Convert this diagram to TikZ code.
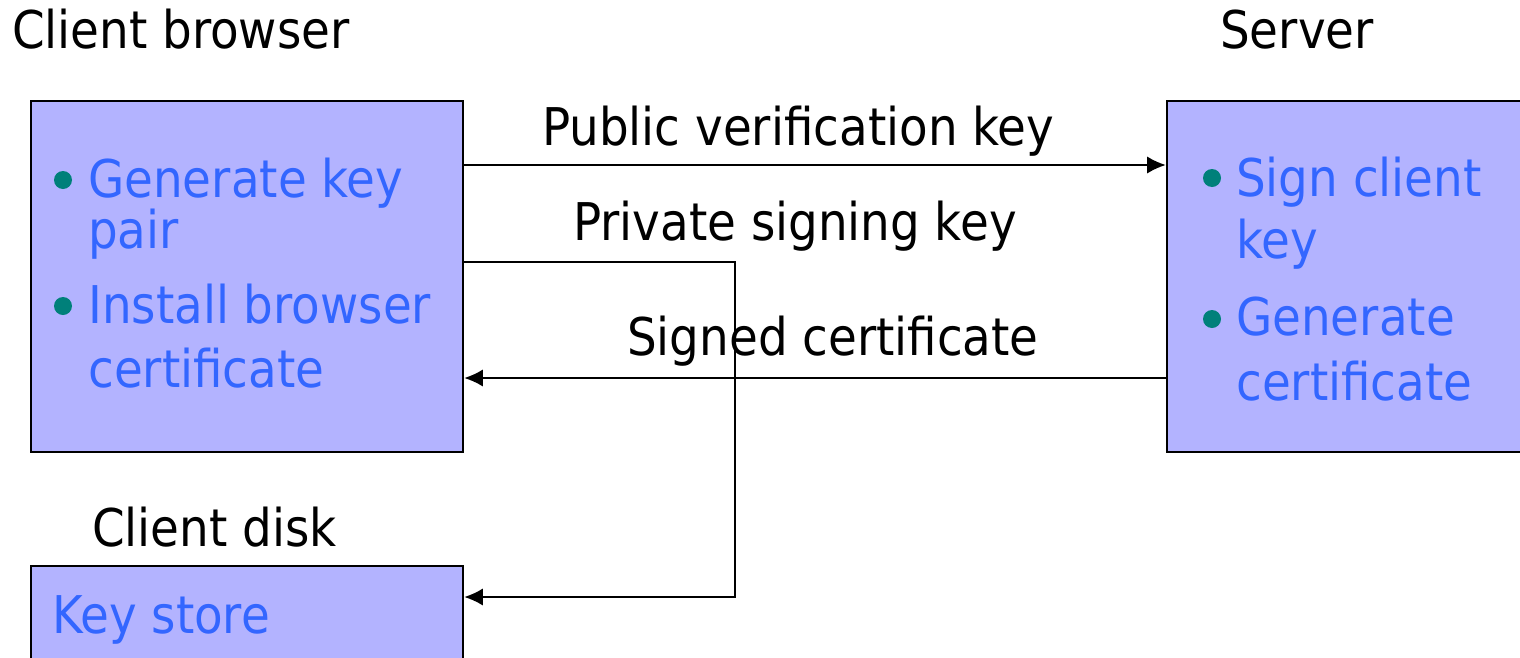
\documentclass[tikz,border=0pt]{standalone}
\usepackage{fontspec}
\setmainfont{DejaVu Sans Condensed}
\usetikzlibrary{arrows.meta}
\definecolor{boxfill}{HTML}{B3B3FF}
\definecolor{itemblue}{HTML}{3366FF}
\definecolor{dotteal}{HTML}{00807A}
\tikzset{
  box/.style={draw=black, line width=1.9pt, fill=boxfill, inner sep=0pt},
  label/.style={anchor=base west, inner sep=0pt, font=\fontsize{39}{47}\selectfont},
  item/.style={label, text=itemblue, align=left},
  link/.style={line width=1.4pt, -{Latex[length=14pt,width=13pt]}}
}
\begin{document}
\begin{tikzpicture}[x=0.75pt,y=-0.75pt]
       \useasboundingbox (0,0) rectangle (1520,657);
       \clip (0,0) rectangle (1520,657);
       %the boxes
       \node[box, minimum width=324pt, minimum height=263.25pt] (browser) at (247,276.5) {};
       \node[box, minimum width=324pt, minimum height=263.25pt] (server) at (1383,276.5) {};
       \node[box, minimum width=324pt, minimum height=112.5pt] (keystore) at (247,641) {};
       %titles
       \node[label] (browsertitle) at (12,48) {Client browser};
       \node[label] (servertitle) at (1220,48) {Server};
       \node[label] (disktitle) at (92,546) {Client disk};
       %bullets
       \fill[dotteal] (63,180) circle (9);
       \fill[dotteal] (63,306) circle (9);
       \fill[dotteal] (1212,178) circle (9);
       \fill[dotteal] (1212,319) circle (9);
       %box texts (placed by the baseline of their last line)
       \node[item, font=\fontsize{39}{38.25}\selectfont] (genkey) at (88,248) {Generate key\\pair};
       \node[item, font=\fontsize{39}{48}\selectfont] (install) at (88,387) {Install browser\\certificate};
       \node[item, font=\fontsize{39}{46.5}\selectfont] (signkey) at (1236,258) {Sign client\\key};
       \node[item, font=\fontsize{39}{48.75}\selectfont] (gencert) at (1236,400) {Generate\\certificate};
       \node[item] (store) at (52,633) {Key store};
       %messages
       \node[label] (publabel) at (542,145) {Public verification key};
       \node[label] (privlabel) at (573,240) {Private signing key};
       \node[label] (certlabel) at (627,355) {Signed certificate};
       \coordinate (pubrow) at (0,165);
       \coordinate (bend) at (735,262);
       \coordinate (certrow) at (0,378);
       \coordinate (diskrow) at (0,597);
       \draw[link] (browser.east |- pubrow) -- (server.west |- pubrow);
       \draw[link] (server.west |- certrow) -- (browser.east |- certrow);
       \draw[link] (browser.east |- bend) -- (bend) |- (keystore.east |- diskrow);
\end{tikzpicture}
\end{document}
